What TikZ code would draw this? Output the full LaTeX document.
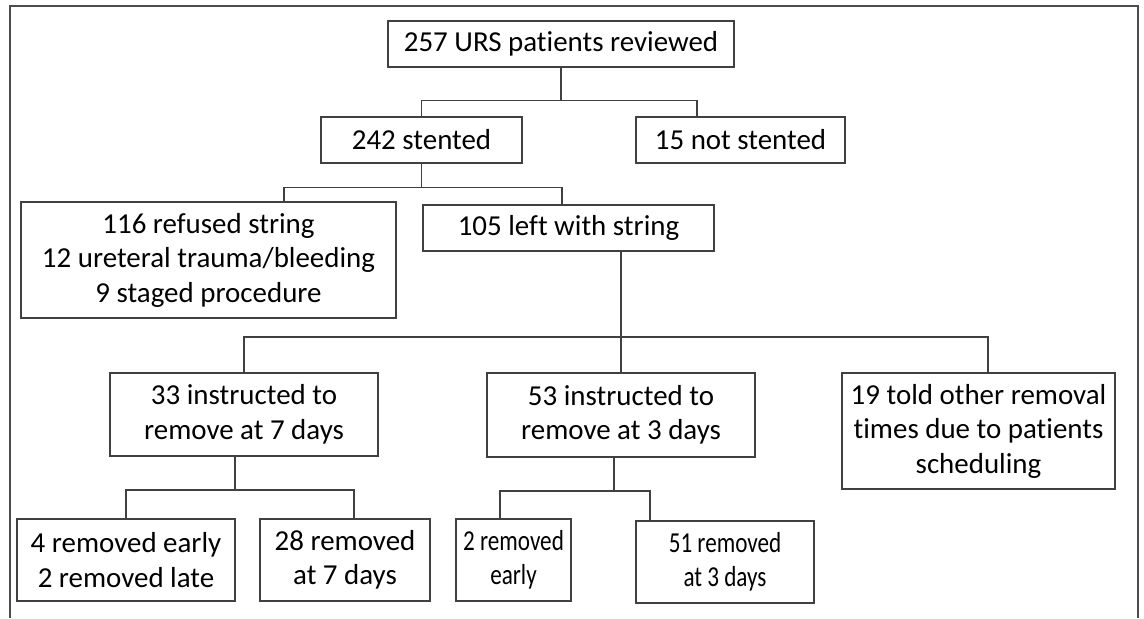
\documentclass[tikz,border=0pt]{standalone}
\usepackage{fontspec}
\usepackage{graphicx}
\setmainfont{Carlito}[Ligatures=NoCommon]
\usetikzlibrary{calc}

\newcommand{\narrowline}[1]{\scalebox{0.8}[1]{#1}}

\tikzset{
  flowbox/.style={draw=black!75, line width=0.9pt, align=center, inner sep=0pt, font=\fontsize{21.7}{25.9}\selectfont},
  link/.style={draw=black!75, line width=0.9pt}
}

\begin{document}
\begin{tikzpicture}[x=0.75pt, y=-0.75pt]
  \useasboundingbox (0,0) rectangle (1144,618);
  \draw[black!70, line width=1.3pt] (10,618) -- (10,6) -- (1138,6) -- (1138,618);

  % boxes
  \node[flowbox, minimum width=346*0.75pt, minimum height=46*0.75pt] (top) at (561,44) {257 URS patients reviewed};
  \node[flowbox, minimum width=201*0.75pt, minimum height=46*0.75pt] (stented) at (421.5,140) {242 stented};
  \node[flowbox, minimum width=209*0.75pt, minimum height=46*0.75pt] (notst) at (740.5,140) {15 not stented};
  \node[flowbox, minimum width=375*0.75pt, minimum height=116*0.75pt] (refused) at (208.5,260) {116 refused string\\12 ureteral trauma/bleeding\\9 staged procedure};
  \node[flowbox, minimum width=291*0.75pt, minimum height=46*0.75pt] (string) at (568.5,228) {105 left with string};
  \node[flowbox, minimum width=268*0.75pt, minimum height=83*0.75pt] (seven) at (244,414.5) {33 instructed to\\remove at 7 days};
  \node[flowbox, minimum width=268*0.75pt, minimum height=84*0.75pt] (three) at (621,415) {53 instructed to\\remove at 3 days};
  \node[flowbox, minimum width=273*0.75pt, minimum height=116*0.75pt] (other) at (978.5,431) {19 told other removal\\times due to patients\\scheduling};
  \node[flowbox, minimum width=218*0.75pt, minimum height=82*0.75pt] (early7) at (126,560) {4 removed early\\2 removed late};
  \node[flowbox, minimum width=170*0.75pt, minimum height=82*0.75pt] (at7) at (345,560) {28 removed\\at 7 days};
  \node[flowbox, minimum width=115*0.75pt, minimum height=82*0.75pt] (early3) at (513.5,560) {\narrowline{2 removed}\\\narrowline{early}};
  \node[flowbox, minimum width=178*0.75pt, minimum height=82*0.75pt] (at3) at (725,562) {\narrowline{51 removed}\\\narrowline{at 3 days}};

  % drop points
  \coordinate (d15) at (697,117);
  \coordinate (d116) at (284,202);
  \coordinate (d105) at (562,205);
  \coordinate (s105) at (621,251);
  \coordinate (d19) at (988,373);
  \coordinate (s33) at (235,456);
  \coordinate (d28) at (354,519);
  \coordinate (s53) at (614,457);
  \coordinate (d2) at (500,519);
  \coordinate (d51) at (650,521);

  % connectors
  \draw[link] (top.south) -- ++(0,33) coordinate (j1);
  \draw[link] (stented.north) |- (j1) -| (d15);
  \draw[link] (stented.south) -- ++(0,24) coordinate (j2);
  \draw[link] (d116) |- (j2) -| (d105);
  \draw[link] (s105) -- (s105 |- three.north);
  \draw[link] (seven.north) |- (621,337) -| (d19);
  \draw[link] (s33) -- ++(0,34) coordinate (j4);
  \draw[link] (early7.north) |- (j4) -| (d28);
  \draw[link] (s53) -- ++(0,34) coordinate (j5);
  \draw[link] (d2) |- (j5) -| (d51);
\end{tikzpicture}
\end{document}
